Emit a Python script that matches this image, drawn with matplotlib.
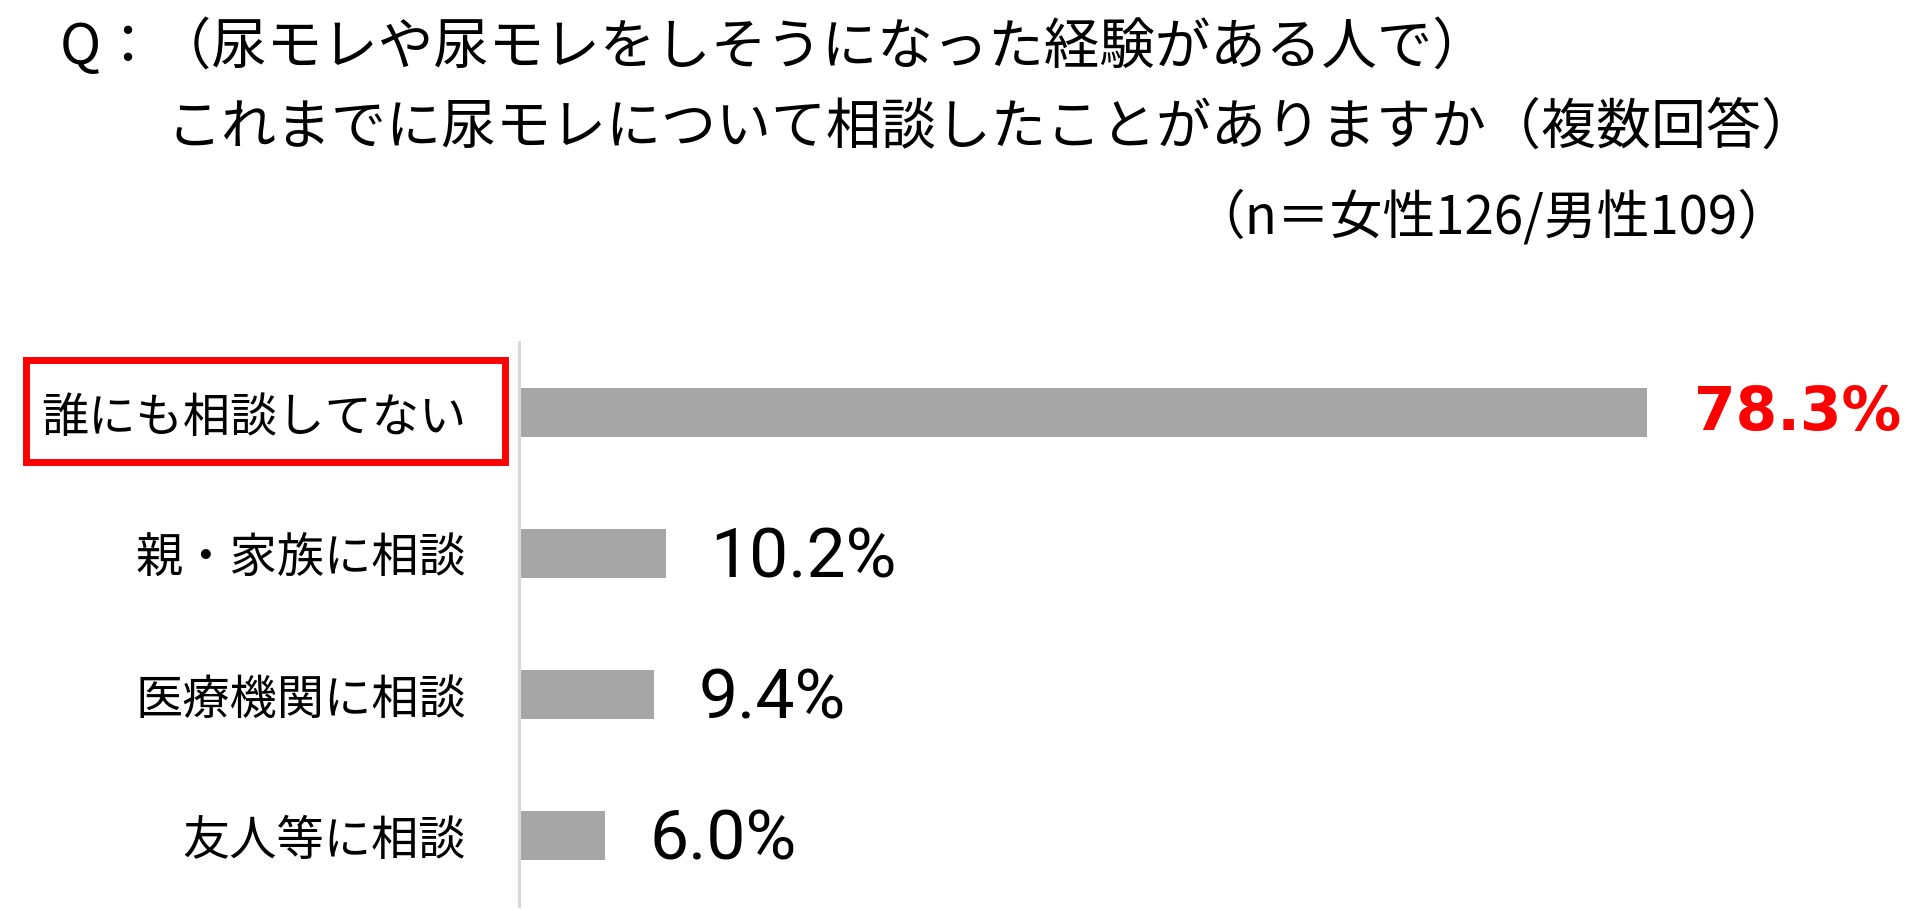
import matplotlib
matplotlib.use("Agg")
import matplotlib.pyplot as plt
from matplotlib.patches import Rectangle

# ---- data ----
categories = ["誰にも相談してない", "親・家族に相談", "医療機関に相談", "友人等に相談"]
values = [78.3, 10.2, 9.4, 6.0]
value_labels = ["78.3%", "10.2%", "9.4%", "6.0%"]
title_line1 = "Q：（尿モレや尿モレをしそうになった経験がある人で）"
title_line2 = "これまでに尿モレについて相談したことがありますか（複数回答）"
sample_note = "（n＝女性126/男性109）"

JP = ["Noto Sans CJK JP", "DejaVu Sans"]

W, H, DPI = 1920, 912, 100
fig = plt.figure(figsize=(W / DPI, H / DPI), dpi=DPI)
fig.patch.set_facecolor("white")

ax_left, ax_right = 519, 1900
ax_top, ax_bot = 343, 907
ax = fig.add_axes([ax_left / W, 1 - ax_bot / H, (ax_right - ax_left) / W, (ax_bot - ax_top) / H])

px_per_unit = 14.4
ypos = list(range(len(categories)))
ax.barh(ypos, values, height=0.354, color="#A6A6A6", zorder=2)
ax.set_xlim(0, (ax_right - ax_left) / px_per_unit)
ax.set_ylim(len(categories) - 0.5, -0.5)

for s in ["top", "right", "bottom"]:
    ax.spines[s].set_visible(False)
ax.spines["left"].set_color("#D9D9D9")
ax.spines["left"].set_linewidth(2.2)
ax.set_xticks([])
ax.set_yticks(ypos)
ax.set_yticklabels(categories, fontfamily=JP, fontsize=34, color="#000000")
ax.tick_params(axis="y", length=0, pad=38)

for i, (v, lab) in enumerate(zip(values, value_labels)):
    if i == 0:
        ax.annotate(lab, (v, i), xytext=(34, 0), textcoords="offset points",
                    ha="left", va="center", fontsize=43, fontweight="bold",
                    color="#FF0000", fontfamily="DejaVu Sans")
    else:
        ax.annotate(lab, (v, i), xytext=(32, -3), textcoords="offset points",
                    ha="left", va="center", fontsize=50, color="#000000",
                    fontfamily=["Roboto", "DejaVu Sans"])

# red highlight box around first category
bx0, bx1, by0, by1 = 26, 505, 361, 463
fig.patches.append(Rectangle((bx0 / W, 1 - by1 / H), (bx1 - bx0) / W, (by1 - by0) / H,
                             transform=fig.transFigure, fill=False, edgecolor="#FF0000",
                             linewidth=5, zorder=5))

fig.text(60 / W, 1 - 48 / H, title_line1, fontfamily=JP, fontsize=40,
         ha="left", va="center", color="#000000")
fig.text(166 / W, 1 - 128 / H, title_line2, fontfamily=JP, fontsize=39.6,
         ha="left", va="center", color="#000000")
fig.text(1790 / W, 1 - 218 / H, sample_note, fontfamily=JP, fontsize=38,
         ha="right", va="center", color="#000000")

fig.savefig("out.png", dpi=DPI, facecolor="white")
